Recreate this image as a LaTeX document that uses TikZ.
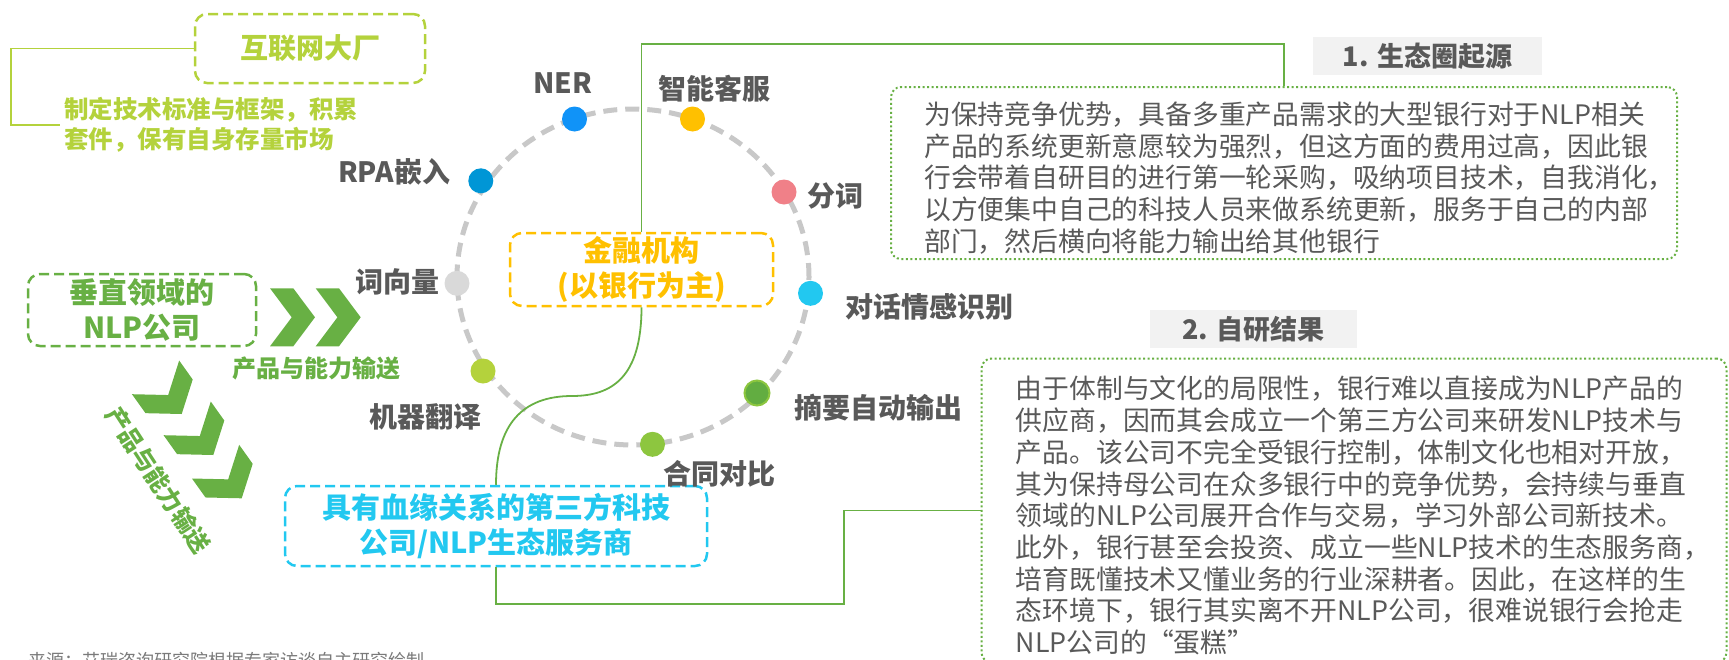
\documentclass[tikz,border=0pt]{standalone}
\usepackage{fontspec}
\setmainfont{Noto Sans CJK SC}
\usepackage{xcolor}
\usepackage{tikz}
\usetikzlibrary{calc}
\definecolor{nlpgray}{HTML}{595959}
\definecolor{nlplime}{HTML}{B4D23C}
\definecolor{nlpgreen}{HTML}{68B044}
\definecolor{nlpgold}{HTML}{FFC000}
\definecolor{nlpcyan}{HTML}{22C8F0}
\definecolor{nlpring}{HTML}{C8C8C8}
\definecolor{nlphead}{HTML}{F2F2F2}
\tikzset{
  ringline/.style={draw=nlpring, line width=5pt, dash pattern=on 14pt off 8pt},
  techdot/.style={circle, minimum size=25pt, inner sep=0pt},
  techlabel/.style={font=\fontsize{28}{30}\selectfont\bfseries, text=nlpgray, inner sep=0pt},
  dashbox/.style={line width=2.5pt, dash pattern=on 10pt off 5pt, rounded corners=12pt,
    align=center, inner sep=0pt, font=\fontsize{29}{35}\selectfont\bfseries},
  dotbox/.style={draw=nlpgreen, line width=2pt, dash pattern=on 2pt off 2.5pt, rounded corners=10pt},
  headbox/.style={fill=nlphead, inner sep=0pt, font=\fontsize{27}{30}\selectfont\bfseries, text=nlpgray},
  bodytext/.style={align=left, inner sep=0pt, text=nlpgray, font=\fontsize{26.8}{31.7}\selectfont},
  flowlabel/.style={inner sep=0pt, text=nlpgreen, font=\fontsize{24}{28}\selectfont\bfseries},
  link/.style={draw=nlpgreen, line width=1.8pt},
  chevron/.style={fill=nlpgreen}
}

\begin{document}
\begin{tikzpicture}[x=1pt, y=-1pt]
    \useasboundingbox (0,0) rectangle (1729,659);
    \clip (0,0) rectangle (1729,659);

    % ring of NLP techniques
    \draw[ringline] (633,277) ellipse [x radius=176pt, y radius=168pt];

    % actors
    \node[dashbox, draw=nlplime, text=nlplime, minimum width=230pt, minimum height=69pt,
      font=\fontsize{28}{30}\selectfont\bfseries] (hulian) at (310,48.5) {互联网大厂};
    \node[dashbox, draw=nlpgreen, text=nlpgreen, minimum width=228pt, minimum height=72pt] (chuizhi) at (142,310) {垂直领域的\\NLP公司};
    \node[dashbox, draw=nlpgold, text=nlpgold, minimum width=263pt, minimum height=73pt] (jr) at (641.5,269.5) {金融机构\\(以银行为主)};
    \node[dashbox, draw=nlpcyan, text=nlpcyan, minimum width=422pt, minimum height=80pt] (kj) at (496,526) {具有血缘关系的第三方科技\\公司/NLP生态服务商};

    \node[font=\fontsize{24.5}{29.7}\selectfont\bfseries, text=nlplime, align=left, inner sep=0pt,
      anchor=west] (zhiding) at (64,125) {制定技术标准与框架，积累\\套件，保有自身存量市场};

    % explanation boxes
    \node[headbox, minimum width=229pt, minimum height=38pt] (head1) at (1427.5,56) {1. 生态圈起源};
    \node[dotbox, minimum width=786pt, minimum height=172pt] (box1) at (1284,173) {};
    \node[bodytext, anchor=north west] (text1) at (924,101.6) {为保持竞争优势，具备多重产品需求的大型银行对于NLP相关\\产品的系统更新意愿较为强烈，但这方面的费用过高，因此银\\行会带着自研目的进行第一轮采购，吸纳项目技术，自我消化，\\以方便集中自己的科技人员来做系统更新，服务于自己的内部\\部门，然后横向将能力输出给其他银行};

    \node[headbox, minimum width=207pt, minimum height=38pt] (head2) at (1253.5,329) {2. 自研结果};
    \node[dotbox, minimum width=745pt, minimum height=304pt] (box2) at (1354,510.5) {};
    \node[bodytext, anchor=north west] (text2) at (1015.6,376) {由于体制与文化的局限性，银行难以直接成为NLP产品的\\供应商，因而其会成立一个第三方公司来研发NLP技术与\\产品。该公司不完全受银行控制，体制文化也相对开放，\\其为保持母公司在众多银行中的竞争优势，会持续与垂直\\领域的NLP公司展开合作与交易，学习外部公司新技术。\\此外，银行甚至会投资、成立一些NLP技术的生态服务商，\\培育既懂技术又懂业务的行业深耕者。因此，在这样的生\\态环境下，银行其实离不开NLP公司，很难说银行会抢走\\NLP公司的“蛋糕”};

    % connectors
    \coordinate (brk) at (11,121);
    \coordinate (tophook) at (0,44);
    \coordinate (sbend) at (572,396);
    \coordinate (lowhook) at (843.6,604.3);
    \draw[line width=1.6pt, nlplime] (hulian.west) -| (brk) |- ([xshift=-4pt]zhiding.west);
    \draw[link] (jr.north) -- (jr.north |- tophook) -| (box1.north);
    \draw[link] (jr.south) .. controls +(0,70) and +(40,0) .. (sbend)
      .. controls +(-50,0) and +(0,-60) .. (kj.north);
    \draw[link] (kj.south) |- (lowhook) |- (box2.west);

    % product flow chevrons
    \foreach \tx in {315,360.7}
      \fill[chevron, shift={(\tx,317.3)}] (0,0) -- (-21.7,-29) -- (-45,-29) -- (-23.3,0) -- (-45,29) -- (-21.7,29) -- cycle;
    \foreach \tx/\ty in {181.7/414, 213.3/455, 241.7/498.3}
      \fill[chevron, shift={(\tx,\ty)}, rotate=-54.5] (0,0) -- (-21.7,-29) -- (-45,-29) -- (-23.3,0) -- (-45,29) -- (-21.7,29) -- cycle;
    \node[flowlabel] (flow1) at (316.7,368.3) {产品与能力输送};
    \node[flowlabel, rotate=-57] (flow2) at (158,480) {产品与能力输送};

    % dots on the ring
    \node[techdot, fill=nlpcyan!60!blue!80!cyan] (dner) at (574.5,119) {};
    \node[techdot, fill=nlpgold] (dkf) at (692.5,119) {};
    \node[techdot, fill={rgb,255:red,240;green,128;blue,136}] (dfc) at (784,192) {};
    \node[techdot, fill=nlpcyan] (ddh) at (810.5,293.3) {};
    \node[techdot, fill={rgb,255:red,98;green,173;blue,65}, draw={rgb,255:red,140;green,198;blue,63}, line width=2pt] (dzy) at (757,393) {};
    \node[techdot, fill={rgb,255:red,141;green,198;blue,63}] (dht) at (652.5,444.3) {};
    \node[techdot, fill=nlplime] (dfy) at (483,371) {};
    \node[techdot, fill={rgb,255:red,217;green,217;blue,217}] (dcx) at (457,283.3) {};
    \node[techdot, fill={rgb,255:red,0;green,150;blue,214}] (drpa) at (480.8,180.8) {};

    \node[techlabel] (lner) at (563,82.7) {NER};
    \node[techlabel] (lkf) at (714,88.2) {智能客服};
    \node[techlabel] (lfc) at (835,196.3) {分词};
    \node[techlabel] (ldh) at (929,306.5) {对话情感识别};
    \node[techlabel] (lzy) at (878,408) {摘要自动输出};
    \node[techlabel] (lht) at (719,474) {合同对比};
    \node[techlabel] (lfy) at (425.7,416.8) {机器翻译};
    \node[techlabel] (lcx) at (397,282) {词向量};
    \node[techlabel] (lrpa) at (394,172) {RPA嵌入};

    % source line, cut by the frame
    \node[inner sep=0pt, anchor=west, text=nlpgray!80, font=\fontsize{18}{20}\selectfont] (src) at (28,661) {来源：艾瑞咨询研究院根据专家访谈自主研究绘制。};
\end{tikzpicture}
\end{document}
